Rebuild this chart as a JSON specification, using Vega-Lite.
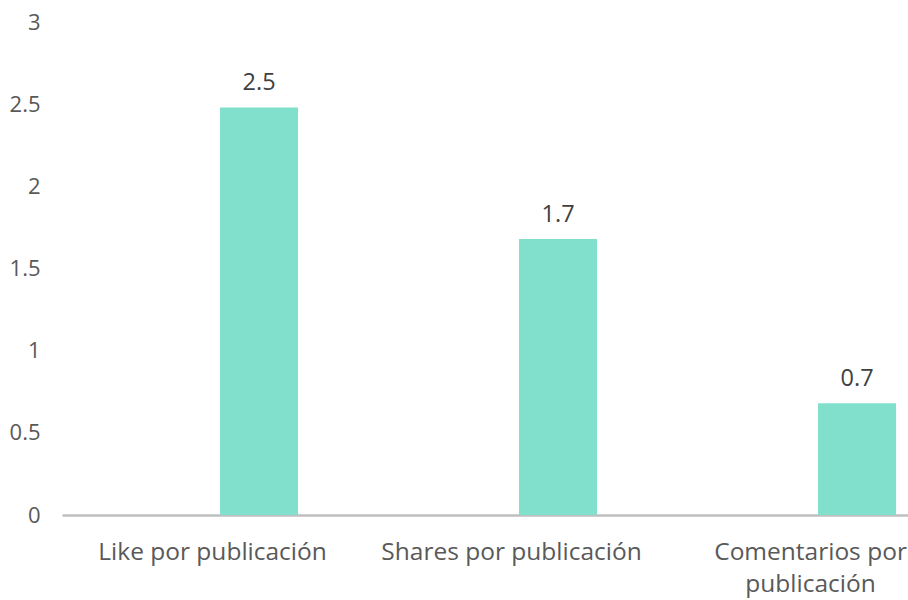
{
  "$schema": "https://vega.github.io/schema/vega-lite/v6.json",
  "width": 846,
  "height": 493,
  "autosize": {"type": "none"},
  "padding": {"left": 62, "top": 22, "right": 0, "bottom": 85},
  "background": "white",
  "config": {
    "view": {"stroke": null},
    "font": "Open Sans"
  },
  "data": {
    "values": [
      {"categoria": "Like por publicación", "valor": 2.48},
      {"categoria": "Shares por publicación", "valor": 1.68},
      {"categoria": "Comentarios por publicación", "valor": 0.68}
    ]
  },
  "encoding": {
    "x": {
      "field": "categoria",
      "type": "nominal",
      "sort": null,
      "scale": {"type": "point", "padding": 0.4147, "align": 0.605},
      "axis": {
        "title": null,
        "labelAngle": 0,
        "labelFont": "Open Sans",
        "labelFontSize": 24.5,
        "labelColor": "#595959",
        "labelPadding": 25,
        "labelLineHeight": 32,
        "labelLimit": 400,
        "ticks": false,
        "domainColor": "#bfbfbf",
        "domainWidth": 2.5,
        "grid": false,
        "labelExpr": "datum.label == 'Comentarios por publicación' ? ['Comentarios por', 'publicación'] : datum.label"
      }
    },
    "y": {
      "field": "valor",
      "type": "quantitative",
      "scale": {"domain": [0, 3], "nice": false},
      "axis": {
        "title": null,
        "values": [0, 0.5, 1, 1.5, 2, 2.5, 3],
        "format": "~g",
        "labelFont": "Open Sans",
        "labelFontSize": 22,
        "labelColor": "#595959",
        "labelPadding": 22,
        "ticks": false,
        "domain": false,
        "grid": false
      }
    }
  },
  "layer": [
    {
      "mark": {"type": "bar", "width": 78, "xOffset": 47, "color": "#80e0cc"}
    },
    {
      "mark": {
        "type": "text",
        "xOffset": 47,
        "dy": -12,
        "baseline": "bottom",
        "fontSize": 23.5,
        "font": "Open Sans",
        "color": "#404040"
      },
      "encoding": {
        "text": {"field": "valor", "type": "quantitative", "format": ".1f"}
      }
    }
  ]
}
